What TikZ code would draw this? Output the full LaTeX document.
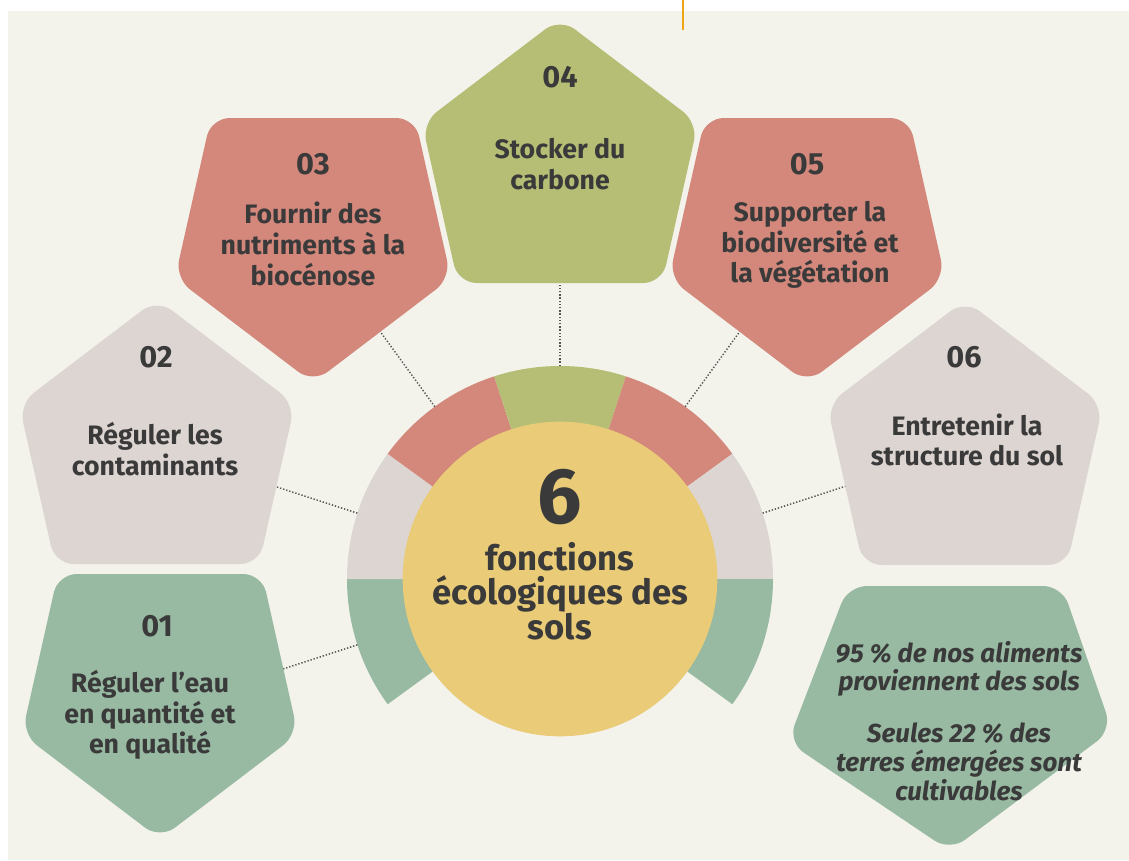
\documentclass[tikz,border=0pt]{standalone}
\usepackage{fontspec}
\setmainfont{Fira Sans}
\usetikzlibrary{calc}
\definecolor{colBg}{HTML}{F3F3EC}
\definecolor{colOlive}{HTML}{B5BE74}
\definecolor{colSalmon}{HTML}{D4887B}
\definecolor{colGray}{HTML}{DDD5D1}
\definecolor{colGreen}{HTML}{98B9A2}
\definecolor{colYellow}{HTML}{EACC78}
\definecolor{colText}{HTML}{3A3A3A}
\definecolor{colDot}{HTML}{555555}
\definecolor{colOrange}{HTML}{EEA616}
\tikzset{
  pentshape/.style={rounded corners=14pt},
  numtxt/.style={font=\bfseries\fontsize{23}{26}\selectfont, text=colText},
  lbltxt/.style={font=\bfseries\fontsize{20}{23}\selectfont, text=colText, align=center},
  itatxt/.style={font=\bfseries\itshape\fontsize{19.5}{21.5}\selectfont, text=colText, align=center},
  conn/.style={colDot, line width=1.1pt, dash pattern=on 1pt off 1.4pt},
}
\newcommand\PentUp[3]{\fill[#3,pentshape,shift={(#1,#2)}] (0,118) -- (-102,118) -- (-138,-42) -- (0,-147) -- (138,-42) -- (102,118) -- cycle;}
\newcommand\PentDown[3]{\fill[#3,pentshape,shift={(#1,#2)}] (0,-118) -- (-102,-118) -- (-138,42) -- (0,147) -- (138,42) -- (102,-118) -- cycle;}
\begin{document}
\begin{tikzpicture}[x=0.75pt,y=-0.75pt]
\useasboundingbox (0,0) rectangle (1129,861);
\fill[white] (0,0) rectangle (1129,861);
\fill[colBg] (8,11) rectangle (1129,860);
% top orange mark
\coordinate (ot) at (683,0);
\coordinate (ob) at (683,30);
\draw[colOrange, line width=2.2pt] (ot) -- (ob);

% centre
\coordinate (c) at (560,579);

% ring segments (y axis points down: visual angle a -> -a)
\begin{scope}
  \clip (c) circle[radius=213];
  \fill[colGreen]  (c) -- ++(-180:400) -- ($(c)+(-216:400)$) -- cycle;
  \fill[colGray]   (c) -- ++(-144:400) -- ($(c)+(-180:400)$) -- cycle;
  \fill[colSalmon] (c) -- ++(-108:400) -- ($(c)+(-144:400)$) -- cycle;
  \fill[colOlive]  (c) -- ++(-72:400)  -- ($(c)+(-108:400)$) -- cycle;
  \fill[colSalmon] (c) -- ++(-36:400)  -- ($(c)+(-72:400)$) -- cycle;
  \fill[colGray]   (c) -- ++(0:400)    -- ($(c)+(-36:400)$) -- cycle;
  \fill[colGreen]  (c) -- ++(36:400)   -- ($(c)+(0:400)$) -- cycle;
\end{scope}

% ring anchor points and pentagon edge points
\coordinate (r1) at ($(c)+(-198:213)$);
\coordinate (r2) at ($(c)+(-162:213)$);
\coordinate (r3) at ($(c)+(-126:213)$);
\coordinate (r4) at ($(c)+(-90:213)$);
\coordinate (r5) at ($(c)+(-54:213)$);
\coordinate (r6) at ($(c)+(-18:213)$);
\coordinate (e1) at ($(c)+(-198:292)$);
\coordinate (e2) at ($(c)+(-162:299)$);
\coordinate (e3) at ($(c)+(-126:307)$);
\coordinate (e4) at ($(c)+(-90:297)$);
\coordinate (e5) at ($(c)+(-54:307)$);
\coordinate (e6) at ($(c)+(-18:301)$);
\draw[conn] (r1) -- (e1);
\draw[conn] (r2) -- (e2);
\draw[conn] (r3) -- (e3);
\draw[conn] (r4) -- (e4);
\draw[conn] (r5) -- (e5);
\draw[conn] (r6) -- (e6);

% central circle
\node[circle, fill=colYellow, minimum size=236pt, inner sep=0pt] (core) at (c) {};
\node[font=\bfseries\fontsize{59}{59}\selectfont, text=colText] (six) at (560,497) {6};
\node[font=\bfseries\fontsize{26}{26}\selectfont, text=colText, align=center] (coretxt) at (560,591) {fonctions\\écologiques des\\sols};

% pentagons
\PentUp{560}{165}{colOlive}
\PentDown{313}{236}{colSalmon}
\PentDown{807}{236}{colSalmon}
\PentUp{157}{446}{colGray}
\PentUp{965}{447}{colGray}
\PentDown{160}{692}{colGreen}
\fill[colGreen,pentshape] (958,586) -- (1062,586) -- (1112,730) -- (950,851) -- (788,742) -- (848,586) -- cycle;

% texts
\node[numtxt] (n4) at (560,77) {04};
\node[lbltxt] (t4) at (560,164) {Stocker du\\carbone};
\node[numtxt] (n3) at (313,164) {03};
\node[lbltxt] (t3) at (313,244) {Fournir des\\nutriments à la\\biocénose};
\node[numtxt] (n5) at (807,164) {05};
\node[lbltxt] (t5) at (810,245) {Supporter la\\biodiversité et\\la végétation};
\node[numtxt] (n2) at (156,357) {02};
\node[lbltxt] (t2) at (155,449) {Réguler les\\contaminants};
\node[numtxt] (n6) at (964,357) {06};
\node[lbltxt] (t6) at (967,440) {Entretenir la\\structure du sol};
\node[numtxt] (n1) at (157,626) {01};
\node[lbltxt] (t1) at (150,715) {Réguler l’eau\\en quantité et\\en qualité};
\node[itatxt] (fa) at (959,669) {95 \% de nos aliments\\proviennent des sols};
\node[itatxt] (fb) at (959,762) {Seules 22 \% des\\terres émergées sont\\cultivables};
\end{tikzpicture}
\end{document}
